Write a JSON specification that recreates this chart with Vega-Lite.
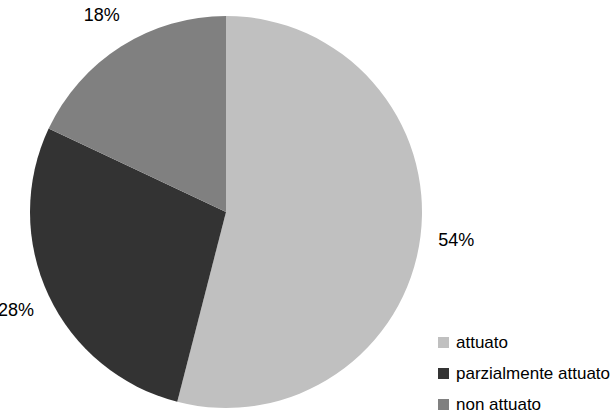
{
  "$schema": "https://vega.github.io/schema/vega-lite/v6.json",
  "width": 452,
  "height": 400,
  "autosize": {"type": "none"},
  "padding": {"left": 0, "top": 12, "right": 161, "bottom": 0},
  "background": "white",
  "config": {"view": {"stroke": null}, "font": "Liberation Sans"},
  "data": {"values": [
    {"categoria": "attuato", "quota": 0.54, "ordine": 1},
    {"categoria": "parzialmente attuato", "quota": 0.28, "ordine": 2},
    {"categoria": "non attuato", "quota": 0.18, "ordine": 3}
  ]},
  "encoding": {
    "theta": {"field": "quota", "type": "quantitative", "stack": true},
    "order": {"field": "ordine", "type": "quantitative"}
  },
  "layer": [
    {
      "mark": {"type": "arc", "outerRadius": 196},
      "encoding": {
        "color": {
          "field": "categoria",
          "type": "nominal",
          "scale": {"domain": ["attuato", "parzialmente attuato", "non attuato"], "range": ["#c0c0c0", "#333333", "#808080"]},
          "legend": {
            "title": null,
            "orient": "none",
            "legendX": 435,
            "legendY": 322,
            "symbolType": "square",
            "symbolSize": 121,
            "symbolStrokeWidth": 0,
            "labelFontSize": 17,
            "labelColor": "#000000",
            "labelOffset": 4,
            "rowPadding": 13,
            "labelLimit": 300,
            "padding": 0
          }
        }
      }
    },
    {
      "mark": {"type": "text", "radius": 232, "fontSize": 18, "color": "#000000"},
      "encoding": {
        "text": {"field": "quota", "type": "quantitative", "format": ".0%"}
      }
    }
  ]
}
